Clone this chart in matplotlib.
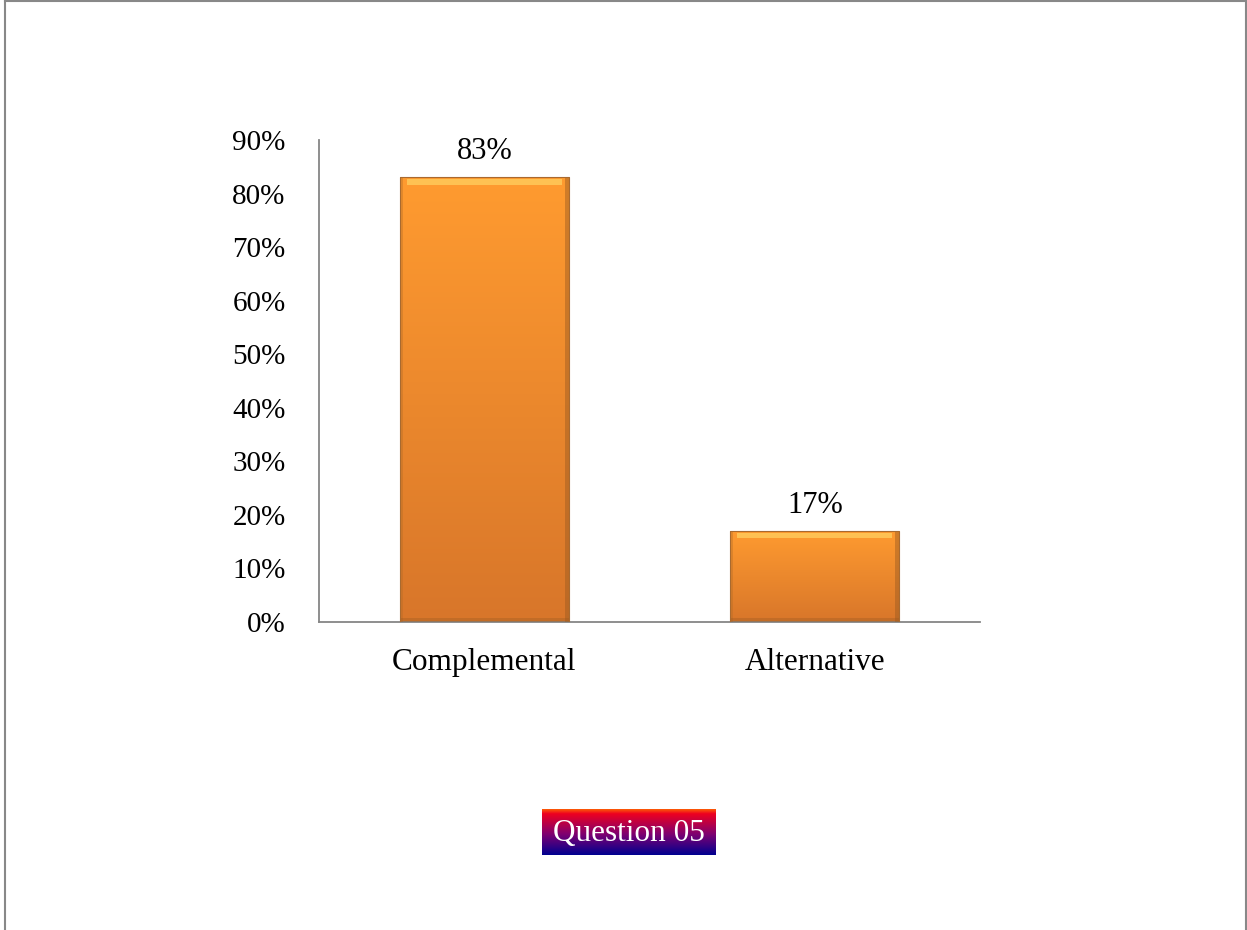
# Question 05 bar chart: Complemental vs Alternative
import numpy as np
import matplotlib.pyplot as plt
from matplotlib.colors import LinearSegmentedColormap
from matplotlib.lines import Line2D

categories = ['Complemental', 'Alternative']
shares = [0.83, 0.17]
yticks = [0.0, 0.1, 0.2, 0.3, 0.4, 0.5, 0.6, 0.7, 0.8, 0.9]
title_text = 'Question 05'


def main():
    plt.rcParams['font.family'] = ['Liberation Serif', 'DejaVu Serif']
    fig = plt.figure(figsize=(12.47, 9.30), dpi=100)
    W, H = 1247, 930

    ax = fig.add_axes([319 / W, 1 - 622 / H, 661 / W, 482 / H])
    x = np.arange(len(categories))
    bars = ax.bar(x, shares, width=0.51, color='none', edgecolor='none', zorder=2)
    ax.set_xlim(-0.5, len(categories) - 0.5)
    ax.set_ylim(0, 0.9)

    # vertical orange gradient inside every bar, with a bevel look
    body = LinearSegmentedColormap.from_list('body', ['#d8762a', '#ff9b30'])
    grad = np.linspace(0, 1, 256).reshape(-1, 1)
    for b in bars:
        x0, y0 = b.get_x(), b.get_y()
        w, h = b.get_width(), b.get_height()
        im = ax.imshow(grad, cmap=body, origin='lower', aspect='auto',
                       extent=[x0, x0 + w, y0, y0 + h], zorder=2)
        im.set_clip_path(b)
        # top highlight
        hh = 0.014
        ax.fill_between([x0 + 0.02, x0 + w - 0.02], y0 + h - hh, y0 + h - 0.003,
                        color='#ffd060', alpha=0.75, lw=0, zorder=3)
        # darker side and bottom edges
        ax.fill_between([x0 + w - 0.012, x0 + w], y0, y0 + h,
                        color='#9a5a20', alpha=0.45, lw=0, zorder=3)
        ax.fill_between([x0, x0 + 0.008], y0, y0 + h,
                        color='#b06a25', alpha=0.35, lw=0, zorder=3)
        ax.fill_between([x0, x0 + w], y0, y0 + 0.008,
                        color='#9a5a20', alpha=0.35, lw=0, zorder=3)
        ax.plot([x0, x0 + w, x0 + w, x0, x0], [y0, y0, y0 + h, y0 + h, y0],
                color='#a86a30', lw=0.8, zorder=4)
        ax.annotate('{:.0%}'.format(h), (x0 + w / 2, y0 + h),
                    xytext=(0, 8), textcoords='offset points',
                    ha='center', va='bottom', fontsize=22)

    ax.set_xticks(x)
    ax.set_xticklabels(categories)
    ax.set_yticks(yticks)
    ax.set_yticklabels(['{:.0%}'.format(v) for v in yticks])
    ax.tick_params(axis='y', length=0, pad=24, labelsize=21)
    ax.tick_params(axis='x', length=0, pad=19, labelsize=22.5)
    for side in ['top', 'right']:
        ax.spines[side].set_visible(False)
    for side in ['left', 'bottom']:
        ax.spines[side].set_color('#868686')
        ax.spines[side].set_linewidth(1.3)
    ax.patch.set_alpha(0)

    # title box with vertical orange-red-purple-blue gradient
    tax = fig.add_axes([542 / W, 1 - 855 / H, 173 / W, 46 / H])
    tcm = LinearSegmentedColormap.from_list(
        'title', [(0.0, '#000090'), (0.45, '#800070'),
                  (0.88, '#ee0020'), (1.0, '#ff7000')])
    tax.imshow(grad, cmap=tcm, origin='lower', aspect='auto', extent=[0, 1, 0, 1])
    tax.set_xlim(0, 1)
    tax.set_ylim(0, 1)
    tax.axis('off')
    tax.text(0.5, 0.47, title_text, color='white', fontsize=22.5,
             ha='center', va='center')

    # frame around the chart area
    gray = '#888888'
    fig.add_artist(Line2D([4.5 / W, 4.5 / W], [0, 1 - 1.5 / H], color=gray, lw=1.5))
    fig.add_artist(Line2D([4.5 / W, 1245.5 / W], [1 - 1.5 / H, 1 - 1.5 / H], color=gray, lw=1.5))
    fig.add_artist(Line2D([1245.5 / W, 1245.5 / W], [0, 1 - 1.5 / H], color=gray, lw=1.5))

    fig.savefig('out.png', dpi=100)


if __name__ == '__main__':
    main()
